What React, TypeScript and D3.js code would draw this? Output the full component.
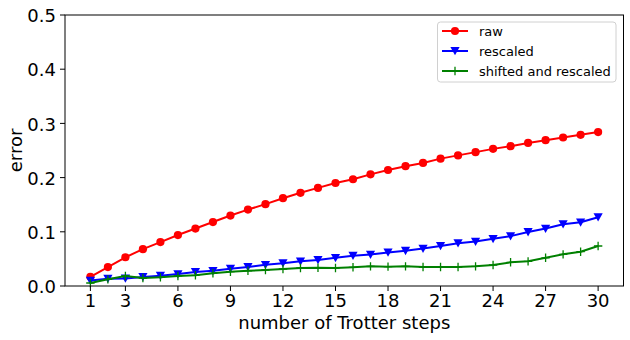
import React from "react";
import * as d3 from "d3";

const steps = d3.range(1, 31);
const rawErr = [0.017, 0.035, 0.053, 0.068, 0.081, 0.094, 0.106, 0.118, 0.130, 0.141, 0.151, 0.162, 0.172, 0.181, 0.190, 0.197, 0.206, 0.214, 0.221, 0.227, 0.235, 0.241, 0.247, 0.253, 0.258, 0.264, 0.269, 0.274, 0.279, 0.284];
const rescaledErr = [0.010, 0.0135, 0.014, 0.0166, 0.019, 0.022, 0.026, 0.028, 0.032, 0.035, 0.039, 0.042, 0.0455, 0.048, 0.052, 0.056, 0.058, 0.062, 0.065, 0.069, 0.074, 0.079, 0.082, 0.087, 0.092, 0.0996, 0.106, 0.114, 0.1175, 0.127];
const shiftedErr = [0.0055, 0.0123, 0.0185, 0.0148, 0.016, 0.0185, 0.0197, 0.0234, 0.0264, 0.028, 0.0295, 0.0314, 0.0332, 0.0338, 0.0332, 0.0345, 0.0363, 0.0357, 0.0363, 0.035, 0.035, 0.035, 0.0363, 0.0387, 0.0437, 0.0455, 0.052, 0.0584, 0.0633, 0.0738];
const xTicks = [1, 3, 6, 9, 12, 15, 18, 21, 24, 27, 30];
const yTicks = [0, 0.1, 0.2, 0.3, 0.4, 0.5];
const seriesNames = ["raw", "rescaled", "shifted and rescaled"];
const seriesColors = ["#ff0000", "#0000ff", "#008000"];
const seriesMarkers = ["circle", "tri", "plus"];

const W = 630, H = 340;
const left = 65, right = 623.5, top = 15, bottom = 286;
const font = "DejaVu Sans, sans-serif";

function Marker({ kind, x, y, color }: { kind: string; x: number; y: number; color: string }) {
  if (kind === "circle") return <circle cx={x} cy={y} r={4.1} fill={color} />;
  if (kind === "tri") {
    const s = 4.6;
    return <path d={`M${x - s},${y - s * 0.85}L${x + s},${y - s * 0.85}L${x},${y + s * 0.95}Z`} fill={color} />;
  }
  const s = 4.2;
  return <path d={`M${x - s},${y}H${x + s}M${x},${y - s}V${y + s}`} stroke={color} strokeWidth={1.3} />;
}

export default function App() {
  const x = d3.scaleLinear().domain([-0.45, 31.45]).range([left, right]);
  const y = d3.scaleLinear().domain([0, 0.5]).range([bottom, top]);
  const data = [rawErr, rescaledErr, shiftedErr];
  const line = d3.line<number>().x((_, i) => x(steps[i])).y((d) => y(d));

  return (
    <svg width={W} height={H} style={{ position: "absolute", left: 0, top: 0, background: "#fff" }} fontFamily={font}>
      <rect x={0} y={0} width={W} height={H} fill="#fff" />
      {data.map((vals, si) => (
        <g key={si}>
          <path d={line(vals) || ""} fill="none" stroke={seriesColors[si]} strokeWidth={2} strokeLinejoin="round" />
          {vals.map((v, i) => (
            <Marker key={i} kind={seriesMarkers[si]} x={x(steps[i])} y={y(v)} color={seriesColors[si]} />
          ))}
        </g>
      ))}
      <rect x={left} y={top} width={right - left} height={bottom - top} fill="none" stroke="#000" strokeWidth={1} />
      {xTicks.map((t) => (
        <g key={t}>
          <line x1={x(t)} x2={x(t)} y1={bottom} y2={bottom + 5} stroke="#000" />
          <text x={x(t)} y={306.7} textAnchor="middle" fontSize={18} fill="#000">{t}</text>
        </g>
      ))}
      {yTicks.map((t) => (
        <g key={t}>
          <line x1={left - 5} x2={left} y1={y(t)} y2={y(t)} stroke="#000" />
          <text x={left - 9} y={y(t) + 7.2} textAnchor="end" fontSize={18} fill="#000">{t.toFixed(1)}</text>
        </g>
      ))}
      <text x={(left + right) / 2} y={328.5} textAnchor="middle" fontSize={18} fill="#000">number of Trotter steps</text>
      <text transform={`translate(22,${(top + bottom) / 2}) rotate(-90)`} textAnchor="middle" fontSize={18} fill="#000">error</text>
      <g>
        <rect x={437.5} y={22} width={178.5} height={60} rx={3} fill="#fff" fillOpacity={0.8} stroke="#d0d0d0" />
        {seriesNames.map((n, i) => {
          const cy = 31 + i * 20;
          return (
            <g key={n}>
              <line x1={442} x2={468} y1={cy} y2={cy} stroke={seriesColors[i]} strokeWidth={2} />
              <Marker kind={seriesMarkers[i]} x={455} y={cy} color={seriesColors[i]} />
              <text x={479} y={cy + 4.5} fontSize={13} fill="#000">{n}</text>
            </g>
          );
        })}
      </g>
    </svg>
  );
}
